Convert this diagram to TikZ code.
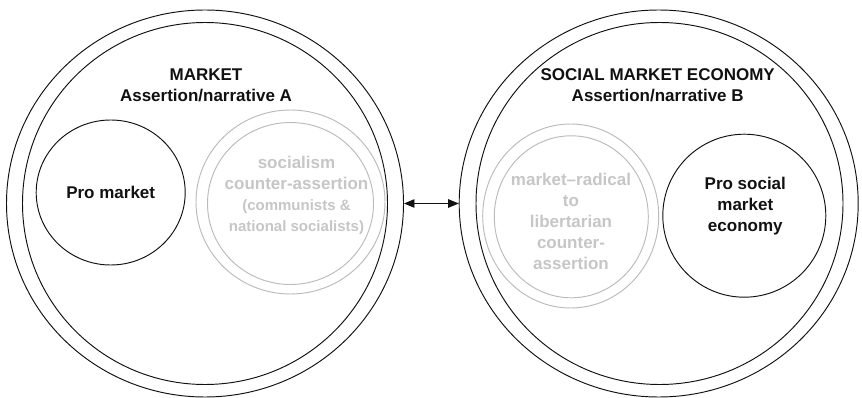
\documentclass[tikz,border=0pt]{standalone}
\usepackage{fontspec}
\setmainfont{Liberation Sans}
\usetikzlibrary{arrows.meta, shapes.geometric}
\definecolor{narink}{HTML}{111111}
\definecolor{counterline}{HTML}{BBBBBB}
\definecolor{countertext}{HTML}{C6C6C6}

\begin{document}
\begin{tikzpicture}[
    x=1pt, y=-1pt,
    >={Triangle[length=10.5pt, width=8.5pt]},
    line width=0.95pt,
    color=narink,
    font=\fontsize{17}{21}\selectfont\bfseries,
    ring/.style n args={2}{ellipse, draw, inner sep=0pt,
                           minimum width=#1, minimum height=#2},
    counterring/.style={draw=counterline},
    title/.style={align=center},
    countertxt/.style={align=center, text=countertext},
]
\useasboundingbox (0,0) rectangle (862,398);

% narrative A: market
\node[ring={397}{387}] (mktOuter) at (205,203.5) {};
\node[ring={365}{362}] (mktInner) at (205,203.5) {};
\node[title] (mktTitle) at (206,85) {MARKET\\Assertion/narrative A};
\node[ring={149}{145}] (proMkt) at (110.7,192.5) {Pro market};

% socialist counter-assertion
\node[ring={189}{184}, counterring] (socOuter) at (290.5,202) {};
\node[ring={166}{162}, counterring] (socInner) at (290.5,203.5) {};
\node[countertxt] (socText) at (296.5,195)
   {socialism\\counter-assertion\\{\fontsize{15}{19}\selectfont (communists \&}\\{\fontsize{15}{19}\selectfont national socialists)}};

% narrative B: social market economy
\node[ring={399}{387}] (smeOuter) at (658.7,203.5) {};
\node[ring={367}{362}] (smeInner) at (659.5,203.5) {};
\node[title] (smeTitle) at (657.7,85) {SOCIAL MARKET ECONOMY\\Assertion/narrative B};
\node[ring={163}{163}] (proSme) at (744.3,215.7) {};
\node[title] (proSmeText) at (745.3,206) {Pro social\\market\\economy};

% libertarian counter-assertion
\node[ring={176}{184}, counterring] (libOuter) at (570.7,216) {};
\node[ring={154}{162}, counterring] (libInner) at (571.3,216.8) {};
\node[countertxt] (libText) at (571,221)
   {market--radical\\to\\libertarian\\counter-\\assertion};

\draw[<->] (mktOuter) -- (smeOuter);

\end{tikzpicture}
\end{document}
